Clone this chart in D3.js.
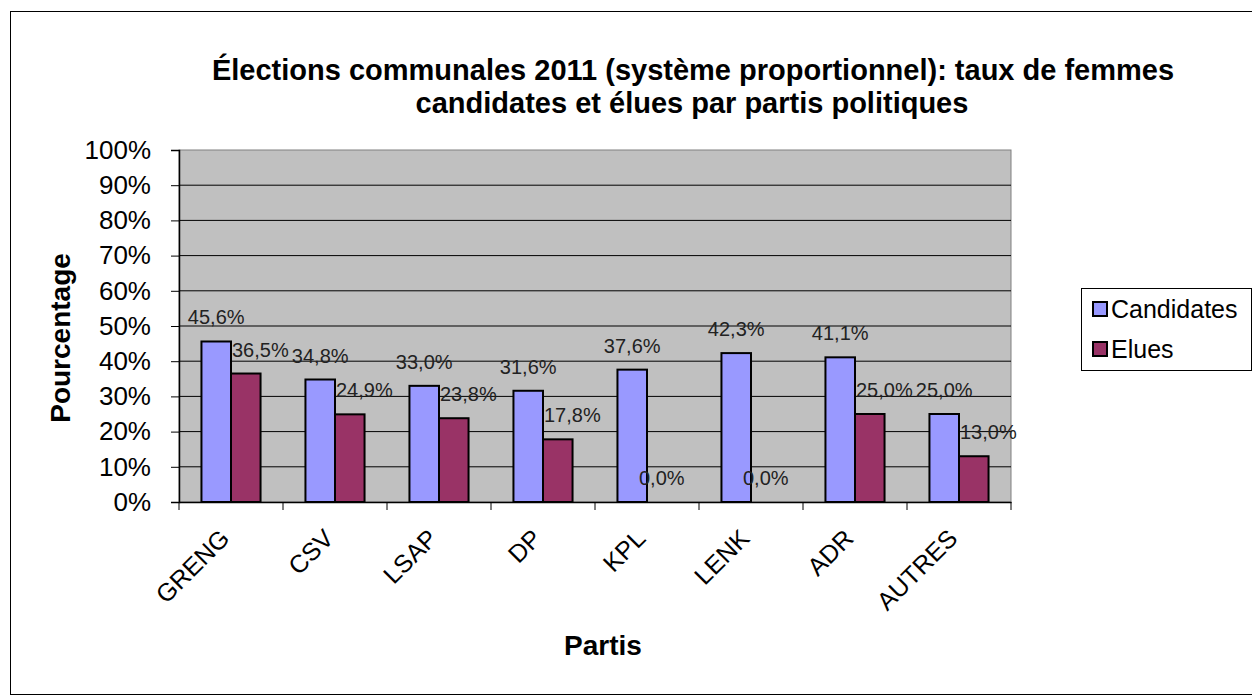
<!DOCTYPE html>
<html>
<head>
<meta charset="utf-8">
<script src="https://cdn.jsdelivr.net/npm/d3@7"></script>
<style>
  body { margin: 0; background: #fff; }
  text { font-family: "Liberation Sans", Arial, sans-serif; }
</style>
</head>
<body>
<script>
var partis = ["GRENG", "CSV", "LSAP", "DP", "KPL", "LENK", "ADR", "AUTRES"];
var candidates = [45.6, 34.8, 33.0, 31.6, 37.6, 42.3, 41.1, 25.0];
var elues = [36.5, 24.9, 23.8, 17.8, 0.0, 0.0, 25.0, 13.0];
var yTicks = [0, 10, 20, 30, 40, 50, 60, 70, 80, 90, 100];
var seriesNames = ["Candidates", "Elues"];
var seriesColours = ["#9999FF", "#993366"];

var W = 1252, H = 696;
var plot = { left: 179, top: 150, right: 1011, bottom: 502 };

var svg = d3.select("body").append("svg")
  .attr("width", W)
  .attr("height", H);

// outer chart frame
svg.append("rect")
  .attr("x", 10.5).attr("y", 11.5)
  .attr("width", W + 20).attr("height", 683)
  .attr("fill", "#fff")
  .attr("stroke", "#000").attr("stroke-width", 1);

var x = d3.scaleBand()
  .domain(partis)
  .range([plot.left, plot.right]);

var inner = d3.scaleBand()
  .domain(seriesNames)
  .range([0, x.bandwidth()])
  .paddingOuter(0.76)
  .paddingInner(0);

var y = d3.scaleLinear()
  .domain([0, 100])
  .range([plot.bottom, plot.top]);

// plot background
svg.append("rect")
  .attr("x", plot.left).attr("y", plot.top)
  .attr("width", plot.right - plot.left)
  .attr("height", plot.bottom - plot.top)
  .attr("fill", "#C0C0C0")
  .attr("stroke", "#808080").attr("stroke-width", 1);

// gridlines
svg.append("g")
  .selectAll("line")
  .data(yTicks.filter(d => d > 0 && d < 100))
  .enter().append("line")
    .attr("x1", plot.left).attr("x2", plot.right)
    .attr("y1", d => y(d)).attr("y2", d => y(d))
    .attr("stroke", "#000").attr("stroke-width", 1);

// y axis
var yAxis = svg.append("g")
  .attr("transform", "translate(" + plot.left + ",0)")
  .call(d3.axisLeft(y).tickValues(yTicks).tickSize(8).tickFormat(d => d + "%"));
yAxis.select(".domain").attr("stroke", "#000").attr("stroke-width", 1.5);
yAxis.selectAll(".tick line").attr("stroke", "#000");
yAxis.selectAll(".tick text")
  .attr("x", -28)
  .attr("font-size", "26px")
  .attr("fill", "#000")
  .attr("font-family", "Liberation Sans, Arial, sans-serif");

// x axis
var xAxis = svg.append("g")
  .attr("transform", "translate(0," + plot.bottom + ")")
  .call(d3.axisBottom(x).tickSize(0).tickFormat(""));
xAxis.select(".domain").attr("stroke", "#000").attr("stroke-width", 1.5);

svg.append("g")
  .selectAll("line")
  .data(partis.concat(["__end"]))
  .enter().append("line")
    .attr("x1", (d, i) => plot.left + i * x.step())
    .attr("x2", (d, i) => plot.left + i * x.step())
    .attr("y1", plot.bottom).attr("y2", plot.bottom + 8)
    .attr("stroke", "#000");

svg.append("g")
  .selectAll("text")
  .data(partis)
  .enter().append("text")
    .attr("transform", d => "translate(" + (x(d) + x.bandwidth() / 2) + "," + (plot.bottom + 38) + ") rotate(-45)")
    .attr("text-anchor", "end")
    .attr("font-size", "25px")
    .text(d => d);

// bars
var seriesValues = [candidates, elues];
var labelLayer = [];
seriesNames.forEach(function(name, s) {
  var g = svg.append("g");
  g.selectAll("rect")
    .data(seriesValues[s])
    .enter().append("rect")
      .attr("x", (d, i) => x(partis[i]) + inner(name))
      .attr("y", d => y(d))
      .attr("width", inner.bandwidth())
      .attr("height", d => plot.bottom - y(d))
      .attr("fill", seriesColours[s])
      .attr("stroke", "#000").attr("stroke-width", 2);
});

// data labels (Elues labels sit from the bar's left edge, like in the original)
seriesNames.forEach(function(name, s) {
  svg.append("g")
    .selectAll("text")
    .data(seriesValues[s])
    .enter().append("text")
      .attr("x", (d, i) => {
        var x0 = x(partis[i]) + inner(name);
        return (s === 1 && d > 0) ? x0 + 1 : x0 + inner.bandwidth() / 2;
      })
      .attr("y", d => y(d) - 17)
      .attr("text-anchor", d => (s === 1 && d > 0) ? "start" : "middle")
      .attr("font-size", "20px")
      .attr("fill", "#222")
      .text(d => d.toFixed(1).replace(".", ",") + "%");
});

// title
var title = svg.append("text")
  .attr("text-anchor", "middle")
  .attr("font-size", "29px")
  .attr("font-weight", "bold");
title.append("tspan").attr("x", 693).attr("y", 80)
  .text("Élections communales 2011 (système proportionnel): taux de femmes");
title.append("tspan").attr("x", 692).attr("y", 113)
  .text("candidates et élues par partis politiques");

// axis titles
svg.append("text")
  .attr("transform", "translate(70,338) rotate(-90)")
  .attr("text-anchor", "middle")
  .attr("font-size", "28px")
  .attr("font-weight", "bold")
  .text("Pourcentage");

svg.append("text")
  .attr("x", 603).attr("y", 655)
  .attr("text-anchor", "middle")
  .attr("font-size", "28px")
  .attr("font-weight", "bold")
  .text("Partis");

// legend
var legend = svg.append("g").attr("transform", "translate(1081,288)");
legend.append("rect")
  .attr("x", 0.5).attr("y", 0.5)
  .attr("width", 170).attr("height", 82)
  .attr("fill", "#fff")
  .attr("stroke", "#000");
var items = legend.selectAll(".item")
  .data(seriesNames)
  .enter().append("g")
    .attr("transform", (d, i) => "translate(12," + (22 + i * 40) + ")");
items.append("rect")
  .attr("x", 0).attr("y", -8)
  .attr("width", 14).attr("height", 14)
  .attr("fill", (d, i) => seriesColours[i])
  .attr("stroke", "#000").attr("stroke-width", 2);
items.append("text")
  .attr("x", 18).attr("y", 8)
  .attr("font-size", "25px")
  .text(d => d);
</script>
</body>
</html>
